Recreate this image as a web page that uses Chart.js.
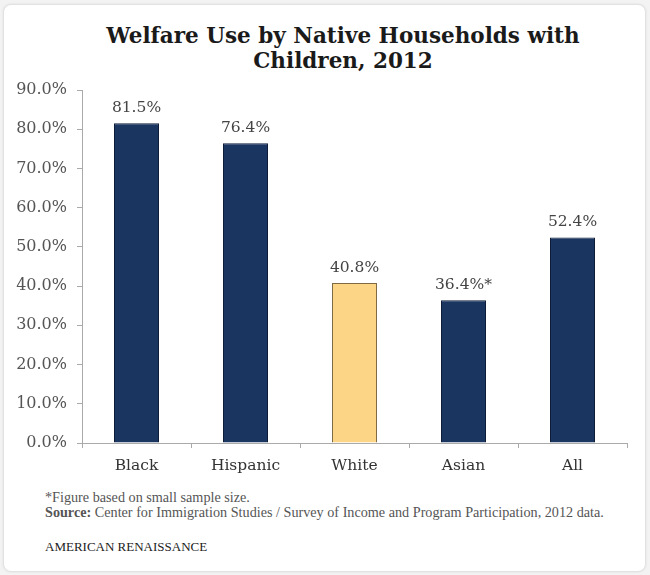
<!DOCTYPE html>
<html>
<head>
<meta charset="utf-8">
<script src="https://cdn.jsdelivr.net/npm/chart.js@4.4.1/dist/chart.umd.min.js"></script>
<style>
  html, body { margin: 0; padding: 0; background: #f3f3f3; }
  body { width: 650px; height: 575px; position: relative; overflow: hidden; }
  #card { position: absolute; left: 3px; top: 4px; width: 641px; height: 566px; background: #fff;
          border: 1px solid #e2e2e2; border-radius: 8px; box-shadow: 0 0 3px rgba(0,0,0,0.08); }
  #chartBox { position: absolute; left: 0; top: 0; width: 650px; height: 480px; }
  #title { position: absolute; left: 0; width: 686px; top: 23px; text-align: center;
           font-family: "DejaVu Serif", serif; font-weight: bold; font-size: 21.5px; line-height: 25px; color: #1a1a1a; }
  .note { position: absolute; left: 45px; font-family: "Liberation Serif", serif; font-size: 14.2px; color: #555; white-space: nowrap; }
</style>
</head>
<body>
<div id="card"></div>
<div id="title">Welfare Use by Native Households with<br>Children, 2012</div>
<div id="chartBox"><canvas id="c"></canvas></div>
<div class="note" style="top:489px;">*Figure based on small sample size.</div>
<div class="note" style="top:504px;"><b>Source:</b> Center for Immigration Studies / Survey of Income and Program Participation, 2012 data.</div>
<div class="note" style="top:539px; font-size:13px; color:#222;">AMERICAN RENAISSANCE</div>
<script>
const categories = ['Black', 'Hispanic', 'White', 'Asian', 'All'];
const values = [81.5, 76.4, 40.8, 36.4, 52.4];
const valueNotes = ['', '', '', '*', ''];
const yTicks = [0, 10, 20, 30, 40, 50, 60, 70, 80, 90];

const navy = '#1b3561';
const navyBorder = '#0e1d38';
const gold = '#fdd586';
const goldBorder = '#7d6a45';

const fills = categories.map(c => c === 'White' ? gold : navy);
const borders = categories.map(c => c === 'White' ? goldBorder : navyBorder);

const labelPlugin = {
  id: 'valueLabels',
  afterDatasetsDraw(chart) {
    const ctx = chart.ctx;
    const meta = chart.getDatasetMeta(0);
    ctx.save();
    ctx.font = '15.5px "DejaVu Serif", serif';
    ctx.fillStyle = '#444';
    ctx.textAlign = 'center';
    ctx.textBaseline = 'alphabetic';
    meta.data.forEach((bar, i) => {
      const txt = values[i].toFixed(1) + '%' + valueNotes[i];
      ctx.fillText(txt, bar.x, bar.y - 11);
    });
    ctx.restore();
  }
};

new Chart(document.getElementById('c'), {
  type: 'bar',
  data: {
    labels: categories,
    datasets: [{
      data: values,
      backgroundColor: fills,
      borderColor: borders,
      borderWidth: 1,
      categoryPercentage: 1.0,
      barPercentage: 0.413
    }]
  },
  options: {
    responsive: true,
    maintainAspectRatio: false,
    animation: false,
    layout: { padding: { top: 90, right: 23, left: 0, bottom: 0 } },
    plugins: { legend: { display: false }, tooltip: { enabled: false }, title: { display: false } },
    scales: {
      x: {
        afterFit(scale) { scale.height = 37; },
        grid: { offset: true, drawOnChartArea: false, drawTicks: true, tickLength: 5, color: '#aaa' },
        border: { color: '#aaa', width: 1 },
        ticks: { font: { family: '"DejaVu Serif", serif', size: 15.5 }, color: '#333', padding: 9 }
      },
      y: {
        min: 0, max: 90,
        afterFit(scale) { scale.width = 82; },
        afterBuildTicks(scale) { scale.ticks = yTicks.map(v => ({ value: v })); },
        grid: { drawOnChartArea: false, drawTicks: true, tickLength: 5, color: '#aaa' },
        border: { color: '#aaa', width: 1 },
        ticks: {
          font: { family: '"DejaVu Serif", serif', size: 16 }, color: '#555', padding: 10,
          callback: v => v.toFixed(1) + '%'
        }
      }
    }
  },
  plugins: [labelPlugin]
});
</script>
</body>
</html>
